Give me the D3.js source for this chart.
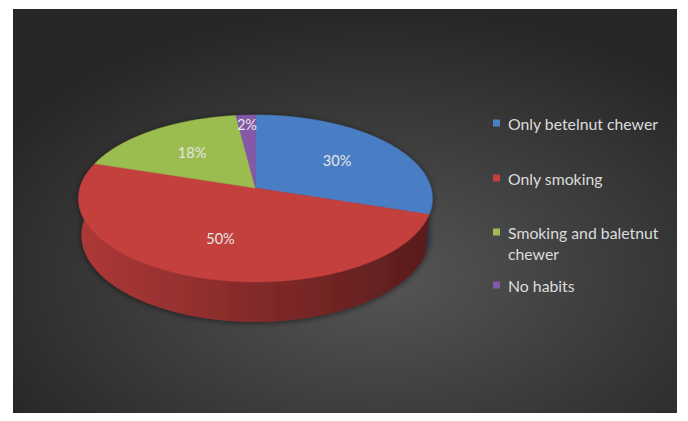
<!DOCTYPE html>
<html>
<head>
<meta charset="utf-8">
<script src="https://cdn.jsdelivr.net/npm/d3@7"></script>
<style>
  body { margin: 0; background: #ffffff; }
  svg { display: block; }
  text { font-family: Lato, "Open Sans", sans-serif; }
</style>
</head>
<body>
<div id="chart"></div>
<script>
// data
var categories = ["Only betelnut chewer", "Only smoking", "Smoking and baletnut chewer", "No habits"];
var shares = [30, 50, 18, 2];
var colors = ["#4a7dc4", "#c43f3e", "#9bbd4f", "#8559a8"];

var width = 688, height = 421;

var svg = d3.select("#chart").append("svg")
    .attr("width", width)
    .attr("height", height);

var defs = svg.append("defs");

var bg = defs.append("radialGradient")
    .attr("id", "bgGrad")
    .attr("cx", "55%").attr("cy", "66%").attr("r", "65%");
bg.append("stop").attr("offset", "0%").attr("stop-color", "#565656");
bg.append("stop").attr("offset", "100%").attr("stop-color", "#272727");

var shadow = defs.append("filter")
    .attr("id", "pieShadow")
    .attr("x", "-20%").attr("y", "-20%").attr("width", "140%").attr("height", "140%");
shadow.append("feDropShadow")
    .attr("dx", 0).attr("dy", 1)
    .attr("stdDeviation", 3)
    .attr("flood-color", "#000")
    .attr("flood-opacity", 0.55);

svg.append("rect")
    .attr("x", 13).attr("y", 9)
    .attr("width", 664).attr("height", 404)
    .attr("fill", "url(#bgGrad)");

// 3d pie projection (perspective camera looking down on a disc)
var cx = 255.5, cy = 188;
var tilt = 27.9 * Math.PI / 180;
var sinA = Math.sin(tilt), cosA = Math.cos(tilt);
var dist = 7.02, focal = 1232, thick = 0.239;
var halfW = 176;

function project(theta, r, yw) {
    var X = r * Math.sin(theta), Z = -r * Math.cos(theta);
    var pu = yw * cosA - Z * sinA;
    var pw = yw * sinA + Z * cosA;
    var depth = dist - pw;
    return [cx + focal * X / depth, cy - focal * pu / depth];
}

function shade(base, nx) {
    var f = 0.67 - 0.22 * nx;
    var c = d3.rgb(base);
    return d3.rgb(c.r * f, c.g * f, c.b * f).toString();
}

var pie = d3.pie().sort(null).value(function (d) { return d; });
var arcs = pie(shares);

// side gradients, left lit, right in shade
colors.forEach(function (c, i) {
    var g = defs.append("linearGradient")
        .attr("id", "wall" + i)
        .attr("gradientUnits", "userSpaceOnUse")
        .attr("x1", cx - halfW).attr("x2", cx + halfW)
        .attr("y1", 0).attr("y2", 0);
    d3.range(0, 1.0001, 0.1).forEach(function (t) {
        g.append("stop")
            .attr("offset", t)
            .attr("stop-color", shade(c, t * 2 - 1));
    });
});

var pieG = svg.append("g").attr("filter", "url(#pieShadow)");

// outer walls, only the front part of each slice
var lo = 80 * Math.PI / 180, hi = 280 * Math.PI / 180;
var walls = arcs.map(function (a, i) {
    var t0 = Math.max(a.startAngle, lo), t1 = Math.min(a.endAngle, hi);
    return { i: i, t0: t0, t1: t1 };
}).filter(function (w) { return w.t1 > w.t0; });

pieG.selectAll("path.wall")
    .data(walls)
    .enter().append("path")
    .attr("class", "wall")
    .attr("d", function (w) {
        var n = Math.max(4, Math.ceil((w.t1 - w.t0) / 0.01));
        var topPts = [], botPts = [];
        for (var k = 0; k <= n; k++) {
            var t = w.t0 + (w.t1 - w.t0) * k / n;
            topPts.push(project(t, 1, 0));
            botPts.push(project(t, 1, -thick));
        }
        return d3.line()(topPts.concat(botPts.reverse())) + "Z";
    })
    .attr("fill", function (w) { return "url(#wall" + w.i + ")"; });

// top faces
pieG.selectAll("path.top")
    .data(arcs)
    .enter().append("path")
    .attr("class", "top")
    .attr("d", function (a) {
        var pts = [[cx, cy]];
        var n = Math.max(4, Math.ceil((a.endAngle - a.startAngle) / 0.01));
        for (var k = 0; k <= n; k++) {
            pts.push(project(a.startAngle + (a.endAngle - a.startAngle) * k / n, 1, 0));
        }
        return d3.line()(pts) + "Z";
    })
    .attr("fill", function (a, i) { return colors[i]; })
    .attr("stroke", function (a, i) { return colors[i]; })
    .attr("stroke-width", 0.5);

// percentage labels
svg.selectAll("text.pct")
    .data(arcs)
    .enter().append("text")
    .attr("class", "pct")
    .attr("transform", function (a) {
        var r = a.data < 5 ? 0.86 : 0.6;
        var p = project((a.startAngle + a.endAngle) / 2, r, 0);
        return "translate(" + p[0] + "," + p[1] + ")";
    })
    .attr("text-anchor", "middle")
    .attr("dominant-baseline", "central")
    .attr("fill", "#e6e6e6")
    .attr("font-size", 14.5)
    .text(function (a) { return a.data + "%"; });

// legend
var legendY = [123, 178, 232, 285];
var legend = svg.selectAll("g.legend")
    .data(categories)
    .enter().append("g")
    .attr("class", "legend")
    .attr("transform", function (d, i) { return "translate(493," + legendY[i] + ")"; });

legend.append("rect")
    .attr("x", 0).attr("y", -3.5)
    .attr("width", 7).attr("height", 7)
    .attr("fill", function (d, i) { return colors[i]; });

legend.append("text")
    .attr("x", 15)
    .attr("dominant-baseline", "central")
    .attr("fill", "#dcdcdc")
    .attr("font-size", 15.8)
    .each(function (d) {
        var el = d3.select(this);
        var words = d.split(" "), line = [];
        var tspan = el.append("tspan").attr("x", 15).attr("dy", 0);
        words.forEach(function (w) {
            line.push(w);
            tspan.text(line.join(" "));
            if (tspan.node().getComputedTextLength() > 168 && line.length > 1) {
                line.pop();
                tspan.text(line.join(" "));
                line = [w];
                tspan = el.append("tspan").attr("x", 15).attr("dy", "1.3em").text(w);
            }
        });
    });
</script>
</body>
</html>
